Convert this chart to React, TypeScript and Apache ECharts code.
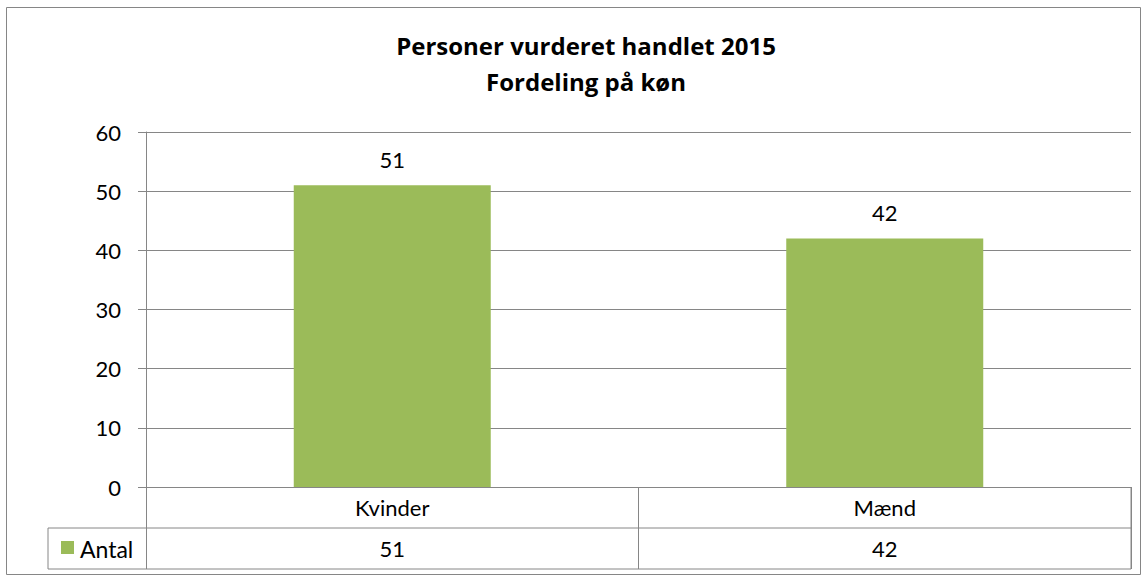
import React, { useEffect, useRef } from "react";
import * as echarts from "echarts";

const titleLines = ["Personer vurderet handlet 2015", "Fordeling på køn"];
const categories = ["Kvinder", "Mænd"];
const seriesName = "Antal";
const values = [51, 42];
const yMin = 0;
const yMax = 60;
const yInterval = 10;

const FONT = "Lato";
const GRID = "#868686";
const GREEN = "#9BBB59";
const FS = 22;

export default function App() {
  const ref = useRef<HTMLDivElement>(null);
  useEffect(() => {
    if (!ref.current) return;
    const chart = echarts.init(ref.current, undefined, { renderer: "svg" });
    const left = 146, right = 1131, top = 132, bottom = 487;
    const row1 = 528, row2 = 569;
    const line = (x1: number, y1: number, x2: number, y2: number) => ({
      type: "line",
      shape: { x1, y1, x2, y2 },
      style: { stroke: GRID, lineWidth: 1 },
      silent: true,
    });
    chart.setOption({
      animation: false,
      backgroundColor: "#fff",
      textStyle: { fontFamily: FONT, color: "#000" },
      title: {
        text: titleLines.join("\n"),
        left: 581,
        textAlign: "center",
        top: 22,
        textStyle: { fontFamily: "Open Sans", fontSize: 24, fontWeight: "bold", lineHeight: 36, color: "#000" },
      },
      grid: { left, right: 1148 - right, top, bottom: 579 - bottom, containLabel: false },
      xAxis: [
        {
          type: "category",
          data: categories,
          position: "bottom",
          axisLine: { show: true, lineStyle: { color: GRID, width: 1 } },
          axisTick: { show: true, length: row2 - bottom, lineStyle: { color: GRID, width: 1 } },
          axisLabel: { fontFamily: FONT, fontSize: FS, color: "#000", margin: 9 },
        },
        {
          type: "category",
          data: categories,
          position: "bottom",
          offset: row1 - bottom,
          axisLine: { show: false },
          axisTick: { show: false },
          axisLabel: {
            fontFamily: FONT,
            fontSize: FS,
            color: "#000",
            margin: 9,
            formatter: (_v: string, i: number) => String(values[i]),
          },
        },
      ],
      yAxis: {
        type: "value",
        min: yMin,
        max: yMax,
        interval: yInterval,
        axisLine: { show: true, lineStyle: { color: GRID, width: 1 } },
        axisTick: { show: true, length: 8, lineStyle: { color: GRID, width: 1 } },
        axisLabel: { fontFamily: FONT, fontSize: FS, color: "#000", margin: 25 },
        splitLine: { show: true, lineStyle: { color: GRID, width: 1 } },
      },
      series: [
        {
          name: seriesName,
          type: "bar",
          data: values,
          barWidth: "40%",
          itemStyle: { color: GREEN },
          label: { show: true, position: "top", distance: 15, fontFamily: FONT, fontSize: FS, color: "#000" },
        },
      ],
      graphic: [
        {
          type: "rect",
          shape: { x: 6.5, y: 7.5, width: 1134, height: 567 },
          style: { fill: "none", stroke: GRID, lineWidth: 1 },
          silent: true,
          z: -1,
        },
        line(48, row1, right, row1),
        line(48, row2, right, row2),
        line(48, row1, 48, row2),
        line(right, bottom, right, row2),
        {
          type: "rect",
          shape: { x: 61, y: 541, width: 13, height: 13 },
          style: { fill: GREEN },
          silent: true,
        },
        {
          type: "text",
          x: 80,
          y: 548.5,
          style: { text: seriesName, fontFamily: FONT, fontSize: 23, fill: "#000", verticalAlign: "middle" },
          silent: true,
        },
      ],
    });
    return () => chart.dispose();
  }, []);
  return <div ref={ref} style={{ position: "fixed", left: 0, top: 0, width: 1148, height: 579 }} />;
}
